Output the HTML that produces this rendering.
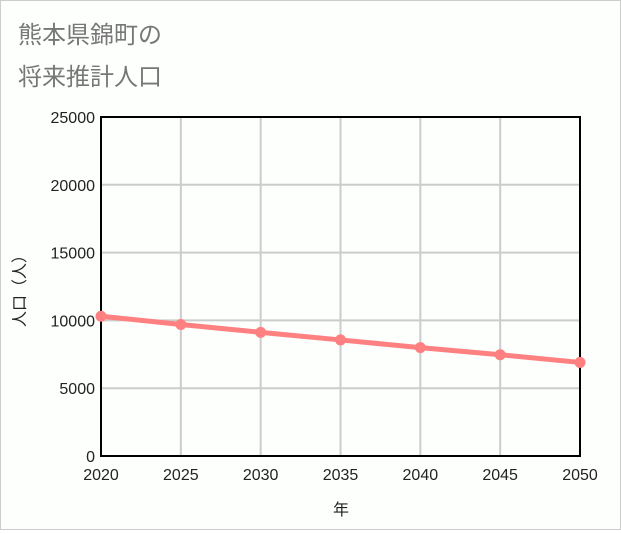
<!DOCTYPE html>
<html><head><meta charset="utf-8"><style>
body{margin:0;background:#fff;}
#wrap{position:relative;width:619px;height:528px;border:1px solid #ccc;background:#fcfffc;font-family:"Liberation Sans","Noto Sans CJK JP",sans-serif;}
</style></head><body>
<div id="wrap">
<svg width="619" height="528" id="svg">
<text x="17" y="42" font-size="24" fill="#777" font-family="Liberation Sans, Noto Sans CJK JP, sans-serif">熊本県錦町の</text>
<text x="17" y="84" font-size="24" fill="#777" font-family="Liberation Sans, Noto Sans CJK JP, sans-serif">将来推計人口</text>
<g id="grid"></g><g id="axes"></g><g id="series"></g>
<text x="340" y="514" font-size="16" text-anchor="middle" fill="#222" font-family="Liberation Sans, Noto Sans CJK JP, sans-serif">年</text>
<text transform="translate(24,286) rotate(-90)" font-size="16" text-anchor="middle" fill="#222" font-family="Liberation Sans, Noto Sans CJK JP, sans-serif">人口（人）</text>
</svg></div>
<script>
const years=[2020,2025,2030,2035,2040,2045,2050];
const population=[10308,9700,9120,8560,7990,7470,6900];
const yTicks=[0,5000,10000,15000,20000,25000];
const L=100,R=579,T=116,B=455;
const xs=v=>L+(v-2020)/30*(R-L);
const ys=v=>B-v/25000*(B-T);
const ns="http://www.w3.org/2000/svg";
function mk(p,t,a){const e=document.createElementNS(ns,t);for(const k in a)e.setAttribute(k,a[k]);p.appendChild(e);return e;}
const g=document.getElementById('grid'),ax=document.getElementById('axes'),s=document.getElementById('series');
yTicks.forEach(v=>{const l=mk(g,'line',{x1:L,x2:R,y1:ys(v),y2:ys(v),stroke:'#ccc','stroke-width':2});


const t=mk(ax,'text',{x:L-6,y:ys(v)+6,'text-anchor':'end','font-size':16,fill:'#222'});t.textContent=v;

});
years.forEach(v=>{const l=mk(g,'line',{x1:xs(v),x2:xs(v),y1:T,y2:B,stroke:'#ccc','stroke-width':2});


const t=mk(ax,'text',{x:xs(v),y:B+24,'text-anchor':'middle','font-size':16,fill:'#222'});t.textContent=v;

});
const f=mk(ax,'rect',{x:L,y:T,width:R-L,height:B-T,fill:'none',stroke:'#000','stroke-width':2});


const pl=mk(s,'polyline',{points:years.map((y,i)=>xs(y)+','+ys(population[i])).join(' '),fill:'none',stroke:'#ff8080','stroke-width':5});


years.forEach((y,i)=>{const c=mk(s,'circle',{cx:xs(y),cy:ys(population[i]),r:5.5,fill:'#ff8080'});

});
</script>
</body></html>
